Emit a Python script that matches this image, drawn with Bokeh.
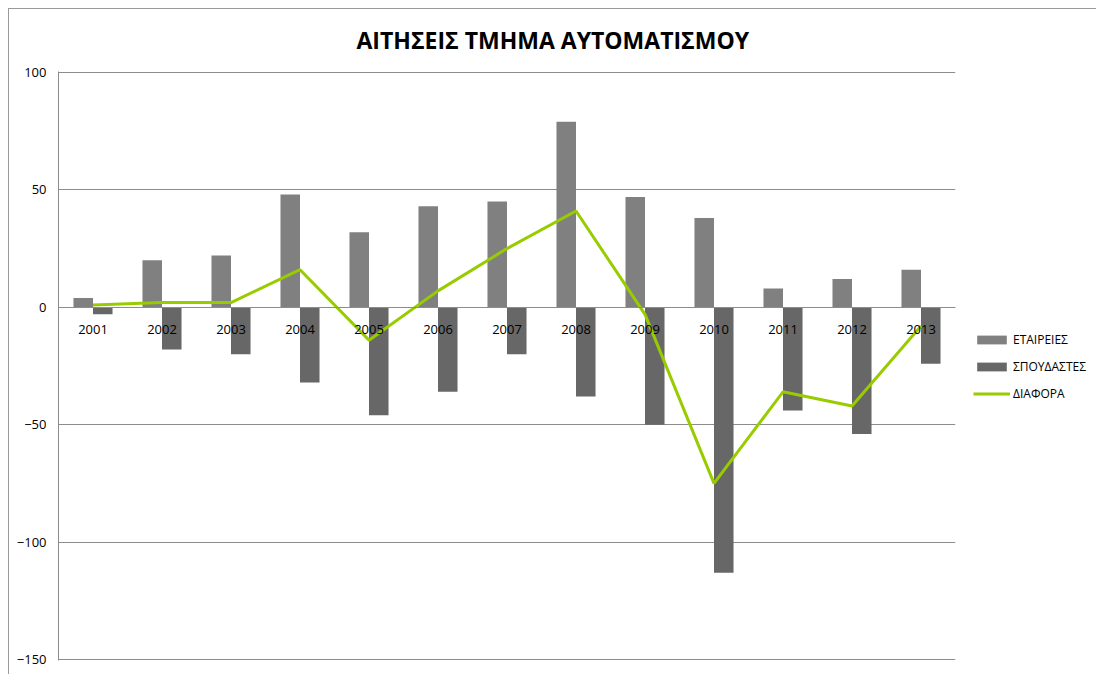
from bokeh.plotting import figure
from bokeh.models import FactorRange, Range1d, FixedTicker, Legend, LegendItem
from bokeh.transform import dodge
from bokeh.core.properties import value
from bokeh.embed import file_html
from bokeh.resources import INLINE
from bokeh.models import ColumnDataSource

years = ["2001", "2002", "2003", "2004", "2005", "2006", "2007",
         "2008", "2009", "2010", "2011", "2012", "2013"]
etaireies = [4, 20, 22, 48, 32, 43, 45, 79, 47, 38, 8, 12, 16]
spoudastes = [-3, -18, -20, -32, -46, -36, -20, -38, -50, -113, -44, -54, -24]
diafora = [1, 2, 2, 16, -14, 7, 25, 41, -3, -75, -36, -42, -8]
y_ticks = [-150, -100, -50, 0, 50, 100]

title_text = "ΑΙΤΗΣΕΙΣ ΤΜΗΜΑ ΑΥΤΟΜΑΤΙΣΜΟΥ"
names = ["ΕΤΑΙΡΕΙΕΣ", "ΣΠΟΥΔΑΣΤΕΣ", "ΔΙΑΦΟΡΑ"]

src = ColumnDataSource(dict(year=years, e=etaireies, s=spoudastes, d=diafora))

FONT = "Open Sans"
GRID = "#8c8c8c"

p = figure(x_range=FactorRange(*years), y_range=Range1d(-150.4, 100.4),
           frame_width=897, frame_height=589,
           min_border_left=49, min_border_right=140,
           min_border_top=62, min_border_bottom=14,
           output_backend="svg", toolbar_location=None)
p.styles = {"margin-left": "8px", "margin-top": "8px",
            "border-left": "1px solid #9a9a9a", "border-top": "1px solid #9a9a9a"}

p.title.text = title_text
p.title.text_font = FONT
p.title.text_font_size = "23px"
p.title.text_font_style = "bold"
p.title.text_color = "#000000"
p.title.align = "left"
p.title.vertical_align = "top"
p.title.offset = 298
p.title.standoff = 28

p.outline_line_color = None
p.background_fill_color = "white"
p.border_fill_color = "white"

p.xgrid.grid_line_color = None
p.ygrid.ticker = FixedTicker(ticks=y_ticks)
p.ygrid.grid_line_color = GRID
p.ygrid.grid_line_width = 1

p.yaxis.ticker = FixedTicker(ticks=y_ticks)
p.yaxis.axis_line_color = GRID
p.yaxis.major_tick_line_color = None
p.yaxis.minor_tick_line_color = None
p.yaxis.major_tick_out = 0
p.yaxis.major_tick_in = 0
p.yaxis.major_label_standoff = 12
p.yaxis.major_label_text_font = FONT
p.yaxis.major_label_text_font_size = "13px"
p.yaxis.major_label_text_color = "#000000"

p.xaxis.fixed_location = 0
p.xaxis.axis_line_color = GRID
p.xaxis.major_tick_line_color = None
p.xaxis.minor_tick_line_color = None
p.xaxis.major_label_standoff = 12
p.xaxis.major_label_text_font = FONT
p.xaxis.major_label_text_font_size = "13px"
p.xaxis.major_label_text_color = "#000000"

r1 = p.vbar(x=dodge("year", -0.1415, range=p.x_range), top="e", bottom=0, width=0.283,
            source=src, fill_color="#808080", line_color=None)
r2 = p.vbar(x=dodge("year", 0.1415, range=p.x_range), top="s", bottom=0, width=0.283,
            source=src, fill_color="#676767", line_color=None)
r3 = p.line(x="year", y="d", source=src, line_color="#99cc00", line_width=3)

legend = Legend(items=[LegendItem(label=names[0], renderers=[r1]),
                       LegendItem(label=names[1], renderers=[r2]),
                       LegendItem(label=names[2], renderers=[r3])],
                location=(18, 258), orientation="vertical",
                glyph_width=37, glyph_height=11, label_height=16,
                label_standoff=3, spacing=10, padding=0, margin=0,
                label_text_font=FONT, label_text_font_size="12px",
                label_text_color="#000000",
                border_line_color=None, background_fill_alpha=0)
p.add_layout(legend, "right")

open("out.html", "w").write(file_html(p, INLINE))
